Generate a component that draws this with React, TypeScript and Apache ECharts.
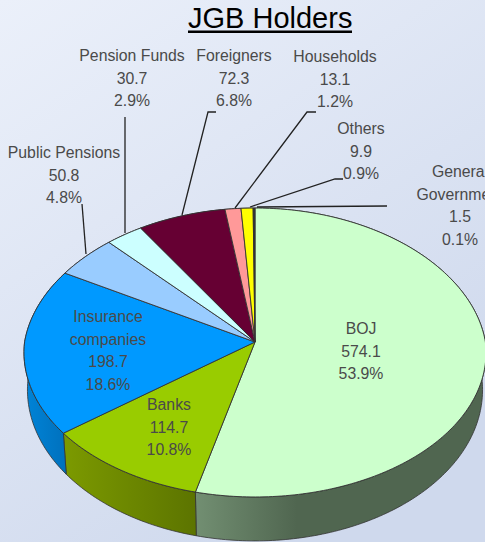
import React, { useEffect, useRef } from "react";
import * as echarts from "echarts";

const TITLE = "JGB Holders";
const NAMES = ["BOJ", "Banks", "Insurance\ncompanies", "Public Pensions", "Pension Funds", "Foreigners", "Households", "Others", "General\nGovernment"];
const VALUES = [574.1, 114.7, 198.7, 50.8, 30.7, 72.3, 13.1, 9.9, 1.5];
const TOP_COLORS = ["#CCFFCC", "#99CC00", "#0099FF", "#99CCFF", "#CCFFFF", "#660033", "#FF9999", "#FFFF00", "#333333"];
const SIDE_COLORS: [string, string][] = [
  ["#728f72", "#506650"], ["#7c9a00", "#5c7400"], ["#0084d8", "#0070bc"], ["#6080a0", "#6080a0"], ["#80a0a0", "#80a0a0"],
  ["#400020", "#400020"], ["#a06060", "#a06060"], ["#a0a000", "#a0a000"], ["#222222", "#222222"],
];
// label anchor: centre x, top y of the text block
const LABEL_POS = [[361, 317], [169, 393], [108, 305], [64, 141], [132, 44], [234, 44], [335, 45], [361, 117], [460, 160]];
const LEADERS = [
  null, null, null,
  [[82, 204], [86, 254]],
  [[125, 117], [125, 233]],
  [[216, 112], [208, 112], [182, 215]],
  [[316, 112], [307, 112], [235, 208]],
  [[343, 179], [335, 179], [250, 207]],
  [[387, 206], [257, 207]],
];

const CX = 255, CY = 342, RX = 230.4, RY = 143.7, P = 0.0727, P_BACK = 0.105;
const FONT = "'Liberation Sans', sans-serif";

const total = VALUES.reduce((a, b) => a + b, 0);
const starts: number[] = [];
VALUES.reduce((acc, v, i) => { starts[i] = acc; return acc + v; }, 0);

function top(frac: number): [number, number] {
  const a = frac * Math.PI * 2;
  const u = Math.sin(a), v = -Math.cos(a), w = 1 - P * v;
  const wx = v < 0 ? 1 - P_BACK * v : w;
  return [CX + (RX * u) / wx, CY + (RY * v) / w];
}
function bottom(frac: number): [number, number] {
  const [x, y] = top(frac);
  return [CX + (x - CX) * 0.985, y + 41 + (y - 432) * 0.045];
}
function arc(i: number, fn: (f: number) => [number, number]) {
  const s = starts[i] / total, e = (starts[i] + VALUES[i]) / total;
  const n = Math.max(2, Math.ceil((e - s) * 360));
  const pts: [number, number][] = [];
  for (let k = 0; k <= n; k++) pts.push(fn(s + ((e - s) * k) / n));
  return pts;
}

export default function App() {
  const ref = useRef<HTMLDivElement>(null);
  useEffect(() => {
    document.body.style.margin = "0";
    const chart = echarts.init(ref.current!, null, { renderer: "svg" });
    const data = VALUES.map((v, i) => ({ name: NAMES[i], value: v }));
    chart.setOption({
      animation: false,
      backgroundColor: new echarts.graphic.LinearGradient(0, 0, 0.6, 1, [
        { offset: 0, color: "#ebf0fa" },
        { offset: 1, color: "#cfd9ed" },
      ]),
      title: {
        text: TITLE, left: 188, top: 3, padding: 0,
        textStyle: { fontFamily: FONT, fontSize: 29, fontWeight: "normal", color: "#000" },
      },
      graphic: [{ type: "line", shape: { x1: 188, y1: 31.7, x2: 352, y2: 31.7 }, style: { stroke: "#000", lineWidth: 2.4 } }],
      series: [
        {
          type: "custom", coordinateSystem: "none", silent: true, z: 1, data,
          renderItem: (p: any) => {
            const i = p.dataIndex;
            const t = arc(i, top), b = arc(i, bottom).reverse();
            return {
              type: "polygon",
              shape: { points: [...t, ...b] },
              style: {
                fill: new echarts.graphic.LinearGradient(0, 0, i === 0 ? 0.35 : 1, 0, [
                  { offset: 0, color: SIDE_COLORS[i][0] },
                  { offset: 1, color: SIDE_COLORS[i][1] },
                ]),
                stroke: "#333", lineWidth: 0.8,
              },
            };
          },
        },
        {
          type: "custom", coordinateSystem: "none", silent: true, z: 2, data,
          renderItem: (p: any) => {
            const i = p.dataIndex;
            return {
              type: "polygon",
              shape: { points: [[CX, CY], ...arc(i, top)] },
              style: { fill: TOP_COLORS[i], stroke: "#333", lineWidth: 0.9 },
            };
          },
        },
        {
          type: "custom", coordinateSystem: "none", silent: true, z: 3, data,
          renderItem: (p: any, api: any) => {
            const i = p.dataIndex;
            const v = api.value(0) as number;
            const children: any[] = [{
              type: "text",
              x: LABEL_POS[i][0], y: LABEL_POS[i][1],
              style: {
                text: `${NAMES[i]}\n${v.toFixed(1)}\n${((v / total) * 100).toFixed(1)}%`,
                align: "center", verticalAlign: "top", lineHeight: 22.7,
                fontFamily: FONT, fontSize: 15.8, fill: "#4a4a4a",
              },
            }];
            const l = LEADERS[i];
            if (l) children.push({ type: "polyline", shape: { points: l }, style: { fill: "none", stroke: "#222", lineWidth: 1.3 } });
            return { type: "group", children };
          },
        },
      ],
    });
    return () => chart.dispose();
  }, []);
  return <div ref={ref} style={{ width: 485, height: 542 }} />;
}
